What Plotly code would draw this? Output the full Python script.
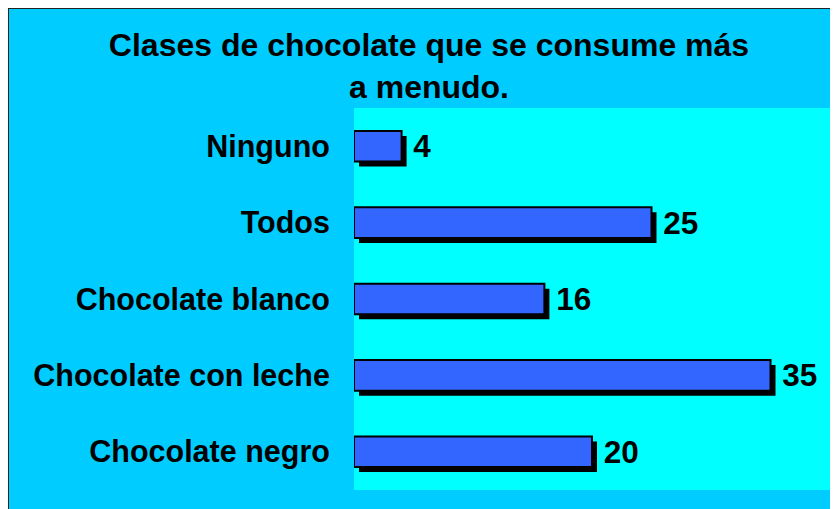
import plotly.graph_objects as go

categories = ["Chocolate negro", "Chocolate con leche", "Chocolate blanco", "Todos", "Ninguno"]
values = [20, 35, 16, 25, 4]

# page body has an 8px default margin; figure sized to fit the 838x509 window
W, H = 830, 501
L, R, T, B = 346, 8, 100, 19
pw, ph = W - L - R, H - T - B

def px_x(p):
    return (p - L) / pw

def px_y(p):
    return (H - B - p) / ph

XMAX = 40.0
unit_px = pw / XMAX
shadow_dx = 5 / unit_px
bar_w = 0.40
shadow_dy = 5 / (ph / 5)

fig = go.Figure()
fig.add_trace(go.Bar(
    y=categories, x=values, orientation="h",
    base=shadow_dx, width=bar_w, offset=-bar_w / 2 - shadow_dy,
    marker=dict(color="black", line=dict(width=0)),
    hoverinfo="skip", showlegend=False,
))
fig.add_trace(go.Bar(
    y=categories, x=values, orientation="h",
    width=bar_w, offset=-bar_w / 2,
    marker=dict(color="#3366FF", line=dict(color="black", width=2)),
    texttemplate=" %{x}", textposition="outside", cliponaxis=False,
    constraintext="none",
    textfont=dict(family="Liberation Sans, Arial", size=31.5, color="black", weight="bold"),
    showlegend=False,
))

fig.update_layout(
    width=W, height=H,
    margin=dict(l=L, r=R, t=T, b=B, pad=0),
    paper_bgcolor="white",
    plot_bgcolor="#00FFFF",
    barmode="overlay",
    font=dict(family="Liberation Sans, Arial", color="black"),
    title=dict(
        text="<b>Clases de chocolate que se consume más<br>a menudo.</b>",
        x=421 / W, xanchor="center", xref="container",
        y=1 - 48 / H, yanchor="top", yref="container",
        font=dict(family="Liberation Sans, Arial", size=32, color="black"),
    ),
    xaxis=dict(range=[0, XMAX], visible=False, fixedrange=True),
    yaxis=dict(
        type="category", categoryorder="array", categoryarray=categories,
        range=[-0.5, 4.5],
        showgrid=False, zeroline=False, showline=False,
        ticks="outside", ticklen=17, tickcolor="rgba(0,0,0,0)",
        tickfont=dict(family="Liberation Sans, Arial", size=30.5, color="black", weight="bold"),
    ),
    shapes=[
        dict(type="rect", xref="paper", yref="paper", layer="below",
             x0=px_x(0), x1=px_x(W + 20), y0=px_y(H + 20), y1=px_y(0),
             fillcolor="#00CCFF", line=dict(color="#222222", width=2)),
        dict(type="rect", xref="paper", yref="paper", layer="below",
             x0=0, x1=1, y0=0, y1=1,
             fillcolor="#00FFFF", line=dict(width=0)),
    ],
)

fig.write_html("out.html")
